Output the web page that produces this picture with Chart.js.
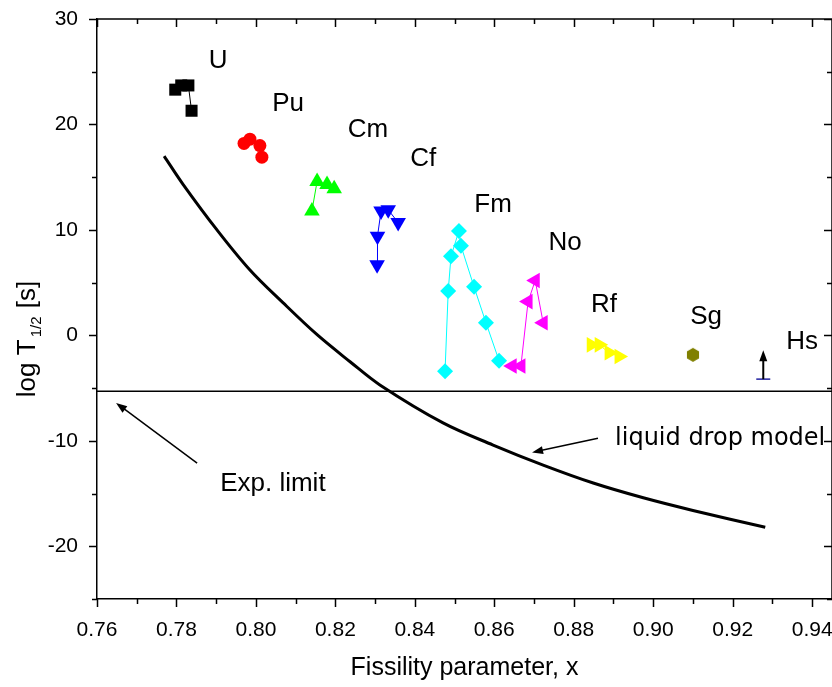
<!DOCTYPE html>
<html>
<head>
<meta charset="utf-8">
<script src="https://cdn.jsdelivr.net/npm/chart.js@4.4.1/dist/chart.umd.min.js"></script>
<style>
  html, body { margin: 0; padding: 0; background: #fff; }
</style>
</head>
<body>
<canvas id="chart" width="832" height="687"></canvas>
<script>
// fissility parameter x and log10 half-life (s) per element
const uX  = [0.7797, 0.7812, 0.7830, 0.7838];
const uY  = [23.3, 23.7, 23.7, 21.3];
const puX = [0.7970, 0.7985, 0.8010, 0.8015];
const puY = [18.2, 18.6, 18.0, 16.9];
const cmX = [0.8141, 0.8154, 0.8179, 0.8197];
const cmY = [11.8, 14.6, 14.3, 13.9];
const cfX = [0.8305, 0.8306, 0.8315, 0.8333, 0.8358];
const cfY = [6.7, 9.4, 11.8, 11.9, 10.7];
const fmX = [0.8476, 0.8484, 0.8491, 0.8511, 0.8516, 0.8549, 0.8579, 0.8612];
const fmY = [-3.4, 4.2, 7.5, 9.9, 8.5, 4.6, 1.2, -2.4];
const noX = [0.8645, 0.8667, 0.8685, 0.8703, 0.8723];
const noY = [-2.9, -2.9, 3.2, 5.2, 1.2];
const rfX = [0.8844, 0.8864, 0.8889, 0.8914];
const rfY = [-0.9, -0.9, -1.65, -2.0];
const sgX = [0.9100];
const sgY = [-1.85];
const hsX = [0.9277];
const hsY = [-4.15];
const hsLimitTop = -1.4;   // arrow tip: lower limit only

// liquid drop model prediction
const ldmX = [0.7769, 0.7817, 0.7902, 0.7985, 0.8068, 0.8154, 0.8237, 0.8312,
              0.8471, 0.8597, 0.8723, 0.8849, 0.8975, 0.9100, 0.9282];
const ldmY = [17.0, 14.3, 10.0, 6.2, 3.1, 0.06, -2.5, -4.7,
              -8.3, -10.4, -12.3, -14.0, -15.4, -16.6, -18.2];

// experimental sensitivity limit
const expLimit = -5.3;

// element names and where they sit (data coordinates)
const elemNames = ['U', 'Pu', 'Cm', 'Cf', 'Fm', 'No', 'Rf', 'Sg', 'Hs'];
const elemLabelX = [0.7905, 0.8081, 0.8282, 0.8421, 0.8597, 0.8778, 0.8876, 0.9133, 0.9375];
const elemLabelY = [26.0, 22.0, 19.45, 16.7, 12.4, 8.8, 2.9, 1.77, -0.6];

const X_MIN = 0.76, X_MAX = 0.945, Y_MIN = -25, Y_MAX = 30;

function pts(xs, ys) {
  return xs.map((x, i) => ({ x: x, y: ys[i] }));
}

// small filled hexagon for Sg
function hexagon(r, color) {
  const c = document.createElement('canvas');
  c.width = c.height = r * 2 + 2;
  const g = c.getContext('2d');
  g.fillStyle = color;
  g.beginPath();
  for (let i = 0; i < 6; i++) {
    const a = Math.PI / 3 * i + Math.PI / 6;
    const px = r + 1 + r * Math.cos(a), py = r + 1 + r * Math.sin(a);
    i === 0 ? g.moveTo(px, py) : g.lineTo(px, py);
  }
  g.closePath();
  g.fill();
  return c;
}

function series(label, xs, ys, color, style, radius, rotation) {
  return {
    label: label,
    data: pts(xs, ys),
    showLine: true,
    borderColor: color,
    borderWidth: 1,
    backgroundColor: color,
    pointBackgroundColor: color,
    pointBorderColor: color,
    pointBorderWidth: 0,
    pointStyle: style,
    pointRadius: radius,
    pointRotation: rotation || 0,
    order: 1
  };
}

// ticks on all four sides, outward on left/bottom, inward on top/right
const frameTicks = {
  id: 'frameTicks',
  afterDraw(chart) {
    const { ctx, chartArea: a, scales: { x, y } } = chart;
    ctx.save();
    ctx.strokeStyle = '#000';
    ctx.lineWidth = 1.5;
    ctx.beginPath();
    ctx.moveTo(a.left, a.top); ctx.lineTo(a.right, a.top);
    ctx.moveTo(a.right, a.top); ctx.lineTo(a.right, a.bottom);
    for (let i = 0; i <= 18; i++) {
      const v = X_MIN + i * 0.01;
      const px = Math.round(x.getPixelForValue(v)) + 0.5;
      const len = i % 2 === 0 ? 8 : 5;
      ctx.moveTo(px, a.bottom); ctx.lineTo(px, a.bottom + len);
      ctx.moveTo(px, a.top); ctx.lineTo(px, a.top + len);
    }
    for (let v = Y_MIN; v <= Y_MAX; v += 5) {
      const py = Math.round(y.getPixelForValue(v)) + 0.5;
      const len = v % 10 === 0 ? 8 : 5;
      ctx.moveTo(a.left - len, py); ctx.lineTo(a.left, py);
      ctx.moveTo(a.right - len, py); ctx.lineTo(a.right, py);
    }
    ctx.stroke();
    ctx.restore();
  }
};

function arrow(ctx, x0, y0, x1, y1, head, width, lw) {
  const ang = Math.atan2(y1 - y0, x1 - x0);
  ctx.beginPath();
  ctx.moveTo(x0, y0);
  ctx.lineTo(x1 - Math.cos(ang) * head * 0.8, y1 - Math.sin(ang) * head * 0.8);
  ctx.lineWidth = lw || 1.5;
  ctx.stroke();
  ctx.beginPath();
  ctx.moveTo(x1, y1);
  ctx.lineTo(x1 - head * Math.cos(ang) + width * Math.sin(ang), y1 - head * Math.sin(ang) - width * Math.cos(ang));
  ctx.lineTo(x1 - head * Math.cos(ang) - width * Math.sin(ang), y1 - head * Math.sin(ang) + width * Math.cos(ang));
  ctx.closePath();
  ctx.fill();
}

// element names, annotations, Hs limit arrow and y-axis title
const annotate = {
  id: 'annotate',
  afterDatasetsDraw(chart) {
    const { ctx, scales: { x, y } } = chart;
    ctx.save();
    ctx.fillStyle = '#000';
    ctx.strokeStyle = '#000';
    ctx.textAlign = 'center';
    ctx.textBaseline = 'middle';
    ctx.font = '26px "Liberation Sans", Arial, sans-serif';
    elemNames.forEach((n, i) => {
      ctx.fillText(n, x.getPixelForValue(elemLabelX[i]), y.getPixelForValue(elemLabelY[i]));
    });

    ctx.textAlign = 'left';
    ctx.textBaseline = 'alphabetic';
    ctx.fillText('Exp. limit', x.getPixelForValue(0.791), y.getPixelForValue(-14.77));
    arrow(ctx, x.getPixelForValue(0.7852), y.getPixelForValue(-12.11),
          x.getPixelForValue(0.7648), y.getPixelForValue(-6.41), 11, 4);

    ctx.font = '24px "DejaVu Sans", Verdana, sans-serif';
    ctx.fillText('liquid drop model', x.getPixelForValue(0.8904), y.getPixelForValue(-10.4));
    arrow(ctx, x.getPixelForValue(0.8861), y.getPixelForValue(-9.76),
          x.getPixelForValue(0.8695), y.getPixelForValue(-11.1), 11, 4);

    // Hs is a lower limit
    arrow(ctx, x.getPixelForValue(hsX[0]), y.getPixelForValue(hsY[0]),
          x.getPixelForValue(hsX[0]), y.getPixelForValue(hsLimitTop), 11, 4, 2);

    // y-axis title with subscript
    ctx.translate(28, 339);
    ctx.rotate(-Math.PI / 2);
    const big = '26px "Liberation Sans", Arial, sans-serif';
    const small = '15px "Liberation Sans", Arial, sans-serif';
    ctx.font = big;
    const w1 = ctx.measureText('log T').width;
    const w3 = ctx.measureText(' [s]').width;
    ctx.font = small;
    const w2 = ctx.measureText('1/2').width + 3;
    let cx = -(w1 + w2 + w3) / 2;
    ctx.textBaseline = 'middle';
    ctx.font = big;
    ctx.fillText('log T', cx, 0);
    ctx.font = small;
    ctx.fillText('1/2', cx + w1 + 2, 9);
    ctx.font = big;
    ctx.fillText(' [s]', cx + w1 + w2, 0);
    ctx.restore();
  }
};

const datasets = [
  series('U',  uX,  uY,  '#000000', 'rect', 8.5),
  series('Pu', puX, puY, '#ff0000', 'circle', 6.5),
  series('Cm', cmX, cmY, '#00ff00', 'triangle', 9),
  series('Cf', cfX, cfY, '#0000ff', 'triangle', 9, 180),
  series('Fm', fmX, fmY, '#00ffff', 'rectRot', 8),
  series('No', noX, noY, '#ff00ff', 'triangle', 9, 270),
  series('Rf', rfX, rfY, '#ffff00', 'triangle', 9, 90),
  series('Sg', sgX, sgY, '#808000', hexagon(7, '#808000'), 7),
  {
    label: 'Hs',
    data: pts(hsX, hsY),
    showLine: false,
    pointStyle: 'line',
    pointRadius: 7,
    pointBorderColor: '#2020a0',
    pointBorderWidth: 1.5,
    order: 1
  },
  {
    label: 'liquid drop model',
    data: pts(ldmX, ldmY),
    showLine: true,
    borderColor: '#000',
    borderWidth: 3,
    pointRadius: 0,
    tension: 0.35,
    order: 2
  },
  {
    label: 'Exp. limit',
    data: [{ x: X_MIN, y: expLimit }, { x: X_MAX, y: expLimit }],
    showLine: true,
    borderColor: '#000',
    borderWidth: 1.5,
    pointRadius: 0,
    order: 2
  }
];

const tickFont = { family: '"Liberation Sans", Arial, sans-serif', size: 21 };

new Chart(document.getElementById('chart'), {
  type: 'scatter',
  data: { datasets: datasets },
  options: {
    responsive: false,
    devicePixelRatio: 1,
    animation: false,
    // no extra room for marker overflow: the plot runs to the right edge
    layout: { autoPadding: false, padding: { top: 19, right: 0, left: 0, bottom: 0 } },
    plugins: {
      legend: { display: false },
      tooltip: { enabled: false }
    },
    scales: {
      x: {
        type: 'linear',
        min: X_MIN,
        max: X_MAX,
        // tick marks come from frameTicks; tickLength only spaces the labels
        grid: { display: false, tickLength: 19 },
        border: { display: true, color: '#000', width: 1.5 },
        ticks: {
          stepSize: 0.02,
          includeBounds: false,
          padding: 0,
          color: '#000',
          font: tickFont,
          callback: v => v.toFixed(2)
        },
        title: {
          display: true,
          text: 'Fissility parameter, x',
          color: '#000',
          font: { family: '"Liberation Sans", Arial, sans-serif', size: 25 },
          padding: { top: 9 }
        },
        afterFit: s => { s.height = 88; s.paddingLeft = 0; s.paddingRight = 0; }
      },
      y: {
        type: 'linear',
        min: Y_MIN,
        max: Y_MAX,
        grid: { display: false, tickLength: 8 },
        border: { display: true, color: '#000', width: 1.5 },
        ticks: {
          stepSize: 10,
          includeBounds: false,
          padding: 11,
          color: '#000',
          font: tickFont
        },
        afterFit: s => { s.width = 97; s.paddingTop = 0; s.paddingBottom = 0; }
      }
    }
  },
  plugins: [frameTicks, annotate]
});
</script>
</body>
</html>
